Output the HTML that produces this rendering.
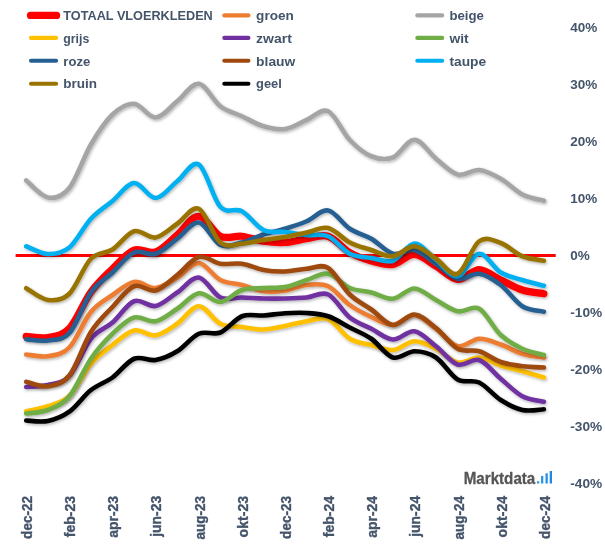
<!DOCTYPE html>
<html><head><meta charset="utf-8"><title>Vloerkleden</title>
<style>
html,body{margin:0;padding:0;background:#fff;}
svg{display:block}
text{font-family:"Liberation Sans",sans-serif;font-weight:bold;fill:#44546A}
.lg{font-size:12.6px}
.ax{font-size:13.5px}
.xl{font-size:14.2px;stroke:#44546A;stroke-width:0.35px}
</style></head><body>
<svg width="605" height="549" viewBox="0 0 605 549">
<defs><filter id="sh" x="-5%" y="-5%" width="110%" height="115%"><feDropShadow dx="1" dy="1.4" stdDeviation="1.4" flood-color="#000" flood-opacity="0.3"/></filter></defs>
<rect width="605" height="549" fill="#fff"/>
<line x1="15.6" y1="255.4" x2="555.7" y2="255.4" stroke="#FF0000" stroke-width="3"/>
<path d="M26.20 336.30C29.79 336.50 40.58 338.80 47.77 337.50C54.96 336.20 62.15 336.08 69.34 328.50C76.53 320.92 83.72 301.96 90.91 292.00C98.10 282.04 105.29 275.75 112.48 268.75C119.67 261.75 126.86 252.79 134.05 250.00C141.24 247.21 148.43 254.50 155.62 252.00C162.81 249.50 170.00 240.96 177.19 235.00C184.38 229.04 191.57 216.04 198.76 216.25C205.95 216.46 213.14 232.92 220.33 236.25C227.52 239.58 234.71 235.42 241.90 236.25C249.09 237.08 256.28 240.21 263.47 241.25C270.66 242.29 277.85 242.92 285.04 242.50C292.23 242.08 299.42 239.79 306.61 238.75C313.80 237.71 320.99 233.96 328.18 236.25C335.37 238.54 342.56 248.38 349.75 252.50C356.94 256.62 364.13 259.00 371.32 261.00C378.51 263.00 385.70 265.58 392.89 264.50C400.08 263.42 407.27 254.21 414.46 254.50C421.65 254.79 428.84 262.08 436.03 266.25C443.22 270.42 450.41 278.96 457.60 279.50C464.79 280.04 471.98 269.42 479.17 269.50C486.36 269.58 493.55 276.58 500.74 280.00C507.93 283.42 515.12 287.71 522.31 290.00C529.50 292.29 540.29 293.12 543.88 293.75" fill="none" stroke="#FF0000" stroke-width="7.2" stroke-linecap="round" stroke-linejoin="round" filter="url(#sh)"/>
<path d="M26.20 354.50C29.79 354.79 40.58 357.42 47.77 356.25C54.96 355.08 62.15 354.88 69.34 347.50C76.53 340.12 83.72 320.75 90.91 312.00C98.10 303.25 105.29 300.00 112.48 295.00C119.67 290.00 126.86 283.17 134.05 282.00C141.24 280.83 148.43 288.75 155.62 288.00C162.81 287.25 170.00 281.67 177.19 277.50C184.38 273.33 191.57 262.58 198.76 263.00C205.95 263.42 213.14 276.33 220.33 280.00C227.52 283.67 234.71 283.12 241.90 285.00C249.09 286.88 256.28 290.33 263.47 291.25C270.66 292.17 277.85 291.54 285.04 290.50C292.23 289.46 299.42 285.71 306.61 285.00C313.80 284.29 320.99 282.92 328.18 286.25C335.37 289.58 342.56 299.88 349.75 305.00C356.94 310.12 364.13 313.67 371.32 317.00C378.51 320.33 385.70 325.33 392.89 325.00C400.08 324.67 407.27 314.38 414.46 315.00C421.65 315.62 428.84 323.54 436.03 328.75C443.22 333.96 450.41 344.58 457.60 346.25C464.79 347.92 471.98 339.04 479.17 338.75C486.36 338.46 493.55 342.00 500.74 344.50C507.93 347.00 515.12 351.58 522.31 353.75C529.50 355.92 540.29 356.88 543.88 357.50" fill="none" stroke="#ED7D31" stroke-width="4.6" stroke-linecap="round" stroke-linejoin="round" filter="url(#sh)"/>
<path d="M26.20 180.50C29.79 183.33 40.58 196.25 47.77 197.50C54.96 198.75 62.15 196.83 69.34 188.00C76.53 179.17 83.72 156.75 90.91 144.50C98.10 132.25 105.29 121.29 112.48 114.50C119.67 107.71 126.86 103.25 134.05 103.75C141.24 104.25 148.43 117.92 155.62 117.50C162.81 117.08 170.00 106.88 177.19 101.25C184.38 95.62 191.57 82.92 198.76 83.75C205.95 84.58 213.14 100.83 220.33 106.25C227.52 111.67 234.71 112.92 241.90 116.25C249.09 119.58 256.28 124.12 263.47 126.25C270.66 128.38 277.85 130.04 285.04 129.00C292.23 127.96 299.42 122.96 306.61 120.00C313.80 117.04 320.99 107.92 328.18 111.25C335.37 114.58 342.56 132.50 349.75 140.00C356.94 147.50 364.13 153.33 371.32 156.25C378.51 159.17 385.70 160.25 392.89 157.50C400.08 154.75 407.27 139.54 414.46 139.75C421.65 139.96 428.84 152.96 436.03 158.75C443.22 164.54 450.41 172.62 457.60 174.50C464.79 176.38 471.98 169.29 479.17 170.00C486.36 170.71 493.55 174.67 500.74 178.75C507.93 182.83 515.12 190.83 522.31 194.50C529.50 198.17 540.29 199.71 543.88 200.75" fill="none" stroke="#A5A5A5" stroke-width="4.6" stroke-linecap="round" stroke-linejoin="round" filter="url(#sh)"/>
<path d="M26.20 411.25C29.79 410.42 40.58 408.79 47.77 406.25C54.96 403.71 62.15 403.08 69.34 396.00C76.53 388.92 83.72 372.25 90.91 363.75C98.10 355.25 105.29 350.54 112.48 345.00C119.67 339.46 126.86 332.12 134.05 330.50C141.24 328.88 148.43 336.38 155.62 335.25C162.81 334.12 170.00 328.58 177.19 323.75C184.38 318.92 191.57 306.25 198.76 306.25C205.95 306.25 213.14 320.29 220.33 323.75C227.52 327.21 234.71 326.04 241.90 327.00C249.09 327.96 256.28 329.67 263.47 329.50C270.66 329.33 277.85 327.38 285.04 326.00C292.23 324.62 299.42 322.42 306.61 321.25C313.80 320.08 320.99 316.08 328.18 319.00C335.37 321.92 342.56 334.42 349.75 338.75C356.94 343.08 364.13 343.12 371.32 345.00C378.51 346.88 385.70 350.62 392.89 350.00C400.08 349.38 407.27 341.46 414.46 341.25C421.65 341.04 428.84 345.21 436.03 348.75C443.22 352.29 450.41 361.04 457.60 362.50C464.79 363.96 471.98 357.00 479.17 357.50C486.36 358.00 493.55 363.21 500.74 365.50C507.93 367.79 515.12 369.25 522.31 371.25C529.50 373.25 540.29 376.46 543.88 377.50" fill="none" stroke="#FFC000" stroke-width="4.6" stroke-linecap="round" stroke-linejoin="round" filter="url(#sh)"/>
<path d="M26.20 387.00C29.79 386.67 40.58 386.83 47.77 385.00C54.96 383.17 62.15 383.71 69.34 376.00C76.53 368.29 83.72 347.67 90.91 338.75C98.10 329.83 105.29 328.75 112.48 322.50C119.67 316.25 126.86 304.00 134.05 301.25C141.24 298.50 148.43 307.46 155.62 306.00C162.81 304.54 170.00 297.25 177.19 292.50C184.38 287.75 191.57 276.67 198.76 277.50C205.95 278.33 213.14 294.17 220.33 297.50C227.52 300.83 234.71 297.33 241.90 297.50C249.09 297.67 256.28 298.33 263.47 298.50C270.66 298.67 277.85 298.67 285.04 298.50C292.23 298.33 299.42 298.17 306.61 297.50C313.80 296.83 320.99 291.17 328.18 294.50C335.37 297.83 342.56 311.79 349.75 317.50C356.94 323.21 364.13 325.08 371.32 328.75C378.51 332.42 385.70 339.08 392.89 339.50C400.08 339.92 407.27 330.12 414.46 331.25C421.65 332.38 428.84 340.71 436.03 346.25C443.22 351.79 450.41 362.21 457.60 364.50C464.79 366.79 471.98 357.62 479.17 360.00C486.36 362.38 493.55 372.71 500.74 378.75C507.93 384.79 515.12 392.42 522.31 396.25C529.50 400.08 540.29 400.83 543.88 401.75" fill="none" stroke="#7030A0" stroke-width="4.6" stroke-linecap="round" stroke-linejoin="round" filter="url(#sh)"/>
<path d="M26.20 413.50C29.79 412.92 40.58 412.87 47.77 410.00C54.96 407.13 62.15 404.84 69.34 396.30C76.53 387.76 83.72 369.18 90.91 358.75C98.10 348.32 105.29 340.62 112.48 333.75C119.67 326.88 126.86 319.58 134.05 317.50C141.24 315.42 148.43 322.71 155.62 321.25C162.81 319.79 170.00 313.42 177.19 308.75C184.38 304.08 191.57 294.38 198.76 293.25C205.95 292.12 213.14 302.54 220.33 302.00C227.52 301.46 234.71 292.33 241.90 290.00C249.09 287.67 256.28 288.50 263.47 288.00C270.66 287.50 277.85 288.33 285.04 287.00C292.23 285.67 299.42 282.21 306.61 280.00C313.80 277.79 320.99 272.42 328.18 273.75C335.37 275.08 342.56 284.88 349.75 288.00C356.94 291.12 364.13 290.71 371.32 292.50C378.51 294.29 385.70 299.42 392.89 298.75C400.08 298.08 407.27 288.29 414.46 288.50C421.65 288.71 428.84 296.21 436.03 300.00C443.22 303.79 450.41 309.79 457.60 311.25C464.79 312.71 471.98 304.79 479.17 308.75C486.36 312.71 493.55 328.33 500.74 335.00C507.93 341.67 515.12 345.42 522.31 348.75C529.50 352.08 540.29 353.96 543.88 355.00" fill="none" stroke="#70AD47" stroke-width="4.6" stroke-linecap="round" stroke-linejoin="round" filter="url(#sh)"/>
<path d="M26.20 339.20C29.79 339.42 40.58 341.53 47.77 340.50C54.96 339.47 62.15 341.00 69.34 333.00C76.53 325.00 83.72 302.58 90.91 292.50C98.10 282.42 105.29 279.17 112.48 272.50C119.67 265.83 126.86 255.62 134.05 252.50C141.24 249.38 148.43 256.04 155.62 253.75C162.81 251.46 170.00 243.96 177.19 238.75C184.38 233.54 191.57 221.46 198.76 222.50C205.95 223.54 213.14 241.67 220.33 245.00C227.52 248.33 234.71 244.25 241.90 242.50C249.09 240.75 256.28 236.79 263.47 234.50C270.66 232.21 277.85 230.96 285.04 228.75C292.23 226.54 299.42 224.29 306.61 221.25C313.80 218.21 320.99 209.25 328.18 210.50C335.37 211.75 342.56 224.04 349.75 228.75C356.94 233.46 364.13 234.58 371.32 238.75C378.51 242.92 385.70 251.88 392.89 253.75C400.08 255.62 407.27 248.33 414.46 250.00C421.65 251.67 428.84 258.96 436.03 263.75C443.22 268.54 450.41 277.08 457.60 278.75C464.79 280.42 471.98 272.71 479.17 273.75C486.36 274.79 493.55 279.58 500.74 285.00C507.93 290.42 515.12 301.79 522.31 306.25C529.50 310.71 540.29 310.83 543.88 311.75" fill="none" stroke="#255E91" stroke-width="4.6" stroke-linecap="round" stroke-linejoin="round" filter="url(#sh)"/>
<path d="M26.20 381.75C29.79 382.51 40.58 387.34 47.77 386.30C54.96 385.26 62.15 384.55 69.34 375.50C76.53 366.45 83.72 343.42 90.91 332.00C98.10 320.58 105.29 314.62 112.48 307.00C119.67 299.38 126.86 289.00 134.05 286.25C141.24 283.50 148.43 292.38 155.62 290.50C162.81 288.62 170.00 280.58 177.19 275.00C184.38 269.42 191.57 258.88 198.76 257.00C205.95 255.12 213.14 262.62 220.33 263.75C227.52 264.88 234.71 262.71 241.90 263.75C249.09 264.79 256.28 268.71 263.47 270.00C270.66 271.29 277.85 271.71 285.04 271.50C292.23 271.29 299.42 269.33 306.61 268.75C313.80 268.17 320.99 263.71 328.18 268.00C335.37 272.29 342.56 287.58 349.75 294.50C356.94 301.42 364.13 304.42 371.32 309.50C378.51 314.58 385.70 324.17 392.89 325.00C400.08 325.83 407.27 314.00 414.46 314.50C421.65 315.00 428.84 322.29 436.03 328.00C443.22 333.71 450.41 344.88 457.60 348.75C464.79 352.62 471.98 349.04 479.17 351.25C486.36 353.46 493.55 359.50 500.74 362.00C507.93 364.50 515.12 365.33 522.31 366.25C529.50 367.17 540.29 367.29 543.88 367.50" fill="none" stroke="#9E480E" stroke-width="4.6" stroke-linecap="round" stroke-linejoin="round" filter="url(#sh)"/>
<path d="M26.20 246.25C29.79 247.54 40.58 253.79 47.77 254.00C54.96 254.21 62.15 253.38 69.34 247.50C76.53 241.62 83.72 226.50 90.91 218.75C98.10 211.00 105.29 206.96 112.48 201.00C119.67 195.04 126.86 183.50 134.05 183.00C141.24 182.50 148.43 198.29 155.62 198.00C162.81 197.71 170.00 186.83 177.19 181.25C184.38 175.67 191.57 160.24 198.76 164.50C205.95 168.76 213.14 199.01 220.33 206.80C227.52 214.59 234.71 207.38 241.90 211.25C249.09 215.12 256.28 226.54 263.47 230.00C270.66 233.46 277.85 231.17 285.04 232.00C292.23 232.83 299.42 234.29 306.61 235.00C313.80 235.71 320.99 233.12 328.18 236.25C335.37 239.38 342.56 250.12 349.75 253.75C356.94 257.38 364.13 256.84 371.32 258.00C378.51 259.16 385.70 263.12 392.89 260.70C400.08 258.28 407.27 243.62 414.46 243.50C421.65 243.38 428.84 254.54 436.03 260.00C443.22 265.46 450.41 277.29 457.60 276.25C464.79 275.21 471.98 254.38 479.17 253.75C486.36 253.12 493.55 268.12 500.74 272.50C507.93 276.88 515.12 277.79 522.31 280.00C529.50 282.21 540.29 284.79 543.88 285.75" fill="none" stroke="#00B0F0" stroke-width="4.6" stroke-linecap="round" stroke-linejoin="round" filter="url(#sh)"/>
<path d="M26.20 288.25C29.79 290.21 40.58 299.08 47.77 300.00C54.96 300.92 62.15 300.62 69.34 293.75C76.53 286.88 83.72 266.12 90.91 258.75C98.10 251.38 105.29 254.08 112.48 249.50C119.67 244.92 126.86 233.25 134.05 231.25C141.24 229.25 148.43 238.75 155.62 237.50C162.81 236.25 170.00 228.54 177.19 223.75C184.38 218.96 191.57 205.62 198.76 208.75C205.95 211.88 213.14 236.67 220.33 242.50C227.52 248.33 234.71 244.17 241.90 243.75C249.09 243.33 256.28 241.12 263.47 240.00C270.66 238.88 277.85 238.25 285.04 237.00C292.23 235.75 299.42 234.00 306.61 232.50C313.80 231.00 320.99 226.33 328.18 228.00C335.37 229.67 342.56 238.83 349.75 242.50C356.94 246.17 364.13 247.71 371.32 250.00C378.51 252.29 385.70 256.88 392.89 256.25C400.08 255.62 407.27 245.83 414.46 246.25C421.65 246.67 428.84 254.17 436.03 258.75C443.22 263.33 450.41 276.67 457.60 273.75C464.79 270.83 471.98 246.38 479.17 241.25C486.36 236.12 493.55 240.50 500.74 243.00C507.93 245.50 515.12 253.29 522.31 256.25C529.50 259.21 540.29 260.00 543.88 260.75" fill="none" stroke="#997300" stroke-width="4.6" stroke-linecap="round" stroke-linejoin="round" filter="url(#sh)"/>
<path d="M26.20 420.50C29.79 420.58 40.58 422.47 47.77 421.00C54.96 419.53 62.15 416.87 69.34 411.70C76.53 406.53 83.72 395.70 90.91 390.00C98.10 384.30 105.29 382.71 112.48 377.50C119.67 372.29 126.86 361.67 134.05 358.75C141.24 355.83 148.43 361.25 155.62 360.00C162.81 358.75 170.00 355.62 177.19 351.25C184.38 346.88 191.57 336.88 198.76 333.75C205.95 330.62 213.14 335.42 220.33 332.50C227.52 329.58 234.71 319.08 241.90 316.25C249.09 313.42 256.28 316.00 263.47 315.50C270.66 315.00 277.85 313.67 285.04 313.25C292.23 312.83 299.42 312.50 306.61 313.00C313.80 313.50 320.99 313.83 328.18 316.25C335.37 318.67 342.56 323.75 349.75 327.50C356.94 331.25 364.13 333.75 371.32 338.75C378.51 343.75 385.70 355.42 392.89 357.50C400.08 359.58 407.27 351.25 414.46 351.25C421.65 351.25 428.84 352.79 436.03 357.50C443.22 362.21 450.41 375.33 457.60 379.50C464.79 383.67 471.98 379.08 479.17 382.50C486.36 385.92 493.55 395.42 500.74 400.00C507.93 404.58 515.12 408.46 522.31 410.00C529.50 411.54 540.29 409.38 543.88 409.25" fill="none" stroke="#000000" stroke-width="4.6" stroke-linecap="round" stroke-linejoin="round" filter="url(#sh)"/>
<line x1="30.55" y1="15.4" x2="56.55" y2="15.4" stroke="#FF0000" stroke-width="7.3" stroke-linecap="round"/><text class="lg" x="63.3" y="19.5" textLength="149.5" lengthAdjust="spacingAndGlyphs">TOTAAL VLOERKLEDEN</text>
<line x1="224.3" y1="15.4" x2="248.4" y2="15.4" stroke="#ED7D31" stroke-width="4.1" stroke-linecap="round"/><text class="lg" x="256.1" y="19.5" textLength="37.75" lengthAdjust="spacingAndGlyphs">groen</text>
<line x1="417.3" y1="15.4" x2="442.2" y2="15.4" stroke="#A5A5A5" stroke-width="4.1" stroke-linecap="round"/><text class="lg" x="449.4" y="19.5" textLength="34.5" lengthAdjust="spacingAndGlyphs">beige</text>
<line x1="31" y1="37.9" x2="56.1" y2="37.9" stroke="#FFC000" stroke-width="4.1" stroke-linecap="round"/><text class="lg" x="63.3" y="42.6" textLength="26" lengthAdjust="spacingAndGlyphs">grijs</text>
<line x1="224.3" y1="37.9" x2="248.4" y2="37.9" stroke="#7030A0" stroke-width="4.1" stroke-linecap="round"/><text class="lg" x="256.1" y="42.6" textLength="35.75" lengthAdjust="spacingAndGlyphs">zwart</text>
<line x1="417.3" y1="37.9" x2="442.2" y2="37.9" stroke="#70AD47" stroke-width="4.1" stroke-linecap="round"/><text class="lg" x="449.4" y="42.6" textLength="19.25" lengthAdjust="spacingAndGlyphs">wit</text>
<line x1="31" y1="60.7" x2="56.1" y2="60.7" stroke="#255E91" stroke-width="4.1" stroke-linecap="round"/><text class="lg" x="63.3" y="65.5" textLength="27" lengthAdjust="spacingAndGlyphs">roze</text>
<line x1="224.3" y1="60.7" x2="248.4" y2="60.7" stroke="#9E480E" stroke-width="4.1" stroke-linecap="round"/><text class="lg" x="256.1" y="65.5" textLength="39.25" lengthAdjust="spacingAndGlyphs">blauw</text>
<line x1="417.3" y1="60.7" x2="442.2" y2="60.7" stroke="#00B0F0" stroke-width="4.1" stroke-linecap="round"/><text class="lg" x="449.4" y="65.5" textLength="36.75" lengthAdjust="spacingAndGlyphs">taupe</text>
<line x1="31" y1="83.7" x2="56.1" y2="83.7" stroke="#997300" stroke-width="4.1" stroke-linecap="round"/><text class="lg" x="63.3" y="88.4" textLength="33.75" lengthAdjust="spacingAndGlyphs">bruin</text>
<line x1="224.3" y1="83.7" x2="248.4" y2="83.7" stroke="#000000" stroke-width="4.1" stroke-linecap="round"/><text class="lg" x="256.1" y="88.4" textLength="25.75" lengthAdjust="spacingAndGlyphs">geel</text>
<text class="ax" x="570.2" y="31.8">40%</text>
<text class="ax" x="570.2" y="88.8">30%</text>
<text class="ax" x="570.2" y="145.8">20%</text>
<text class="ax" x="570.2" y="202.8">10%</text>
<text class="ax" x="570.2" y="259.8">0%</text>
<text class="ax" x="570.2" y="316.8" textLength="32" lengthAdjust="spacingAndGlyphs">-10%</text>
<text class="ax" x="570.2" y="373.8" textLength="32" lengthAdjust="spacingAndGlyphs">-20%</text>
<text class="ax" x="570.2" y="430.8" textLength="32" lengthAdjust="spacingAndGlyphs">-30%</text>
<text class="ax" x="570.2" y="487.8" textLength="32" lengthAdjust="spacingAndGlyphs">-40%</text>
<text class="xl" transform="translate(31.90,495.9) rotate(-90)" text-anchor="end" textLength="43.0" lengthAdjust="spacingAndGlyphs">dec-22</text>
<text class="xl" transform="translate(75.06,495.9) rotate(-90)" text-anchor="end" textLength="41.4" lengthAdjust="spacingAndGlyphs">feb-23</text>
<text class="xl" transform="translate(118.22,495.9) rotate(-90)" text-anchor="end" textLength="41.9" lengthAdjust="spacingAndGlyphs">apr-23</text>
<text class="xl" transform="translate(161.38,495.9) rotate(-90)" text-anchor="end" textLength="40.9" lengthAdjust="spacingAndGlyphs">jun-23</text>
<text class="xl" transform="translate(204.54,495.9) rotate(-90)" text-anchor="end" textLength="43.7" lengthAdjust="spacingAndGlyphs">aug-23</text>
<text class="xl" transform="translate(247.70,495.9) rotate(-90)" text-anchor="end" textLength="41.6" lengthAdjust="spacingAndGlyphs">okt-23</text>
<text class="xl" transform="translate(290.86,495.9) rotate(-90)" text-anchor="end" textLength="43.0" lengthAdjust="spacingAndGlyphs">dec-23</text>
<text class="xl" transform="translate(334.02,495.9) rotate(-90)" text-anchor="end" textLength="41.4" lengthAdjust="spacingAndGlyphs">feb-24</text>
<text class="xl" transform="translate(377.18,495.9) rotate(-90)" text-anchor="end" textLength="41.9" lengthAdjust="spacingAndGlyphs">apr-24</text>
<text class="xl" transform="translate(420.34,495.9) rotate(-90)" text-anchor="end" textLength="40.9" lengthAdjust="spacingAndGlyphs">jun-24</text>
<text class="xl" transform="translate(463.50,495.9) rotate(-90)" text-anchor="end" textLength="43.7" lengthAdjust="spacingAndGlyphs">aug-24</text>
<text class="xl" transform="translate(506.66,495.9) rotate(-90)" text-anchor="end" textLength="41.6" lengthAdjust="spacingAndGlyphs">okt-24</text>
<text class="xl" transform="translate(549.82,495.9) rotate(-90)" text-anchor="end" textLength="43.0" lengthAdjust="spacingAndGlyphs">dec-24</text>
<text x="463.7" y="483.7" style="font-size:16.6px;fill:#555555;stroke:#555555;stroke-width:0.3px" textLength="71.6" lengthAdjust="spacingAndGlyphs">Marktdata</text>
<rect x="536.9" y="481.2" width="2.3" height="2.3" fill="#2C97E8"/><rect x="541" y="475.9" width="2.3" height="7.6" fill="#2C97E8"/><rect x="545.5" y="473.3" width="2.3" height="10.2" fill="#2A8FE0"/><rect x="549.7" y="471" width="2.3" height="12.5" fill="#1E88E5"/>
</svg></body></html>
